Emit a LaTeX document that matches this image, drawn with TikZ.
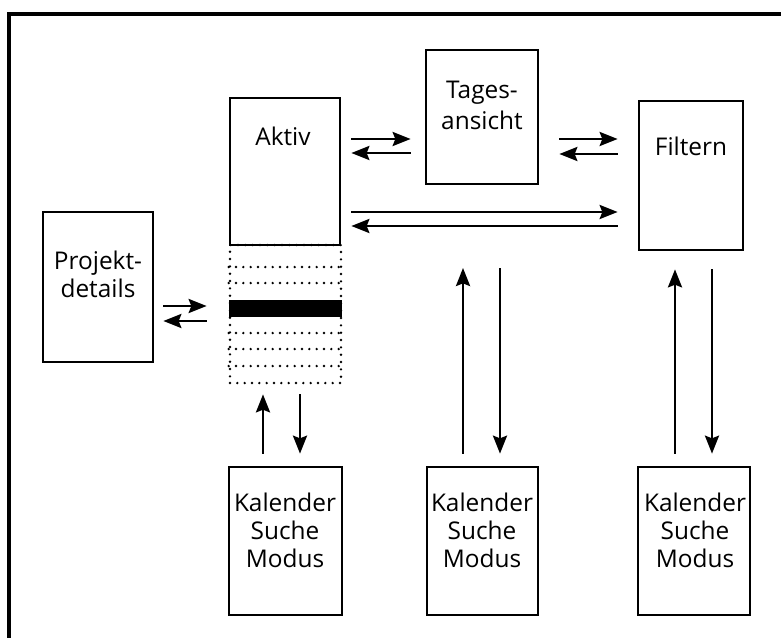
\documentclass[tikz,border=0pt]{standalone}
\usepackage{fontspec}
\setmainfont{Open Sans}
\usetikzlibrary{arrows.meta}

\begin{document}
\begin{tikzpicture}[x=0.75pt, y=-0.75pt,
	box/.style={draw, line width=2pt, inner sep=0pt},
	txt/.style={anchor=base, align=center, inner sep=0pt, font=\fontsize{18.3}{21}\selectfont},
	arr/.style={-{Stealth[length=13.5pt, width=10.5pt, inset=2pt]}, line width=2pt},
	dotline/.style={line width=2pt, line cap=round, dash pattern=on 0pt off 5.5pt}]

		\useasboundingbox (0,0) rectangle (781,637);
		\draw [line width=2.4pt] (9,660) |- (800,14);

		\node [box, minimum width=82.5pt, minimum height=110.25pt] (aktiv) at (285,171.5) {};
		\node [box, minimum width=84pt,   minimum height=100.5pt]  (tages) at (482,117) {};
		\node [box, minimum width=78pt,   minimum height=111.75pt] (filtern) at (691,175.5) {};
		\node [box, minimum width=82.5pt, minimum height=112.5pt]  (projekt) at (98,287) {};
		\node [box, minimum width=84.75pt, minimum height=111pt] (kal1) at (285.5,541) {};
		\node [box, minimum width=83.25pt, minimum height=111pt] (kal2) at (482.5,541) {};
		\node [box, minimum width=84pt,    minimum height=111pt] (kal3) at (694,541) {};
		\node [draw, dotline, inner sep=0pt, minimum width=83.25pt, minimum height=103.5pt] (stack) at (285.5,314) {};
		\coordinate (tagesfoot) at (482,268);

		\node [txt] (aktivtxt) at (283,145) {Aktiv};
		\node [txt] (tagestxt) at (482,129) {Tages-\\[2pt]ansicht};
		\node [txt] (filterntxt) at (691,155) {Filtern};
		\node [txt] (projekttxt) at (98,297) {Projekt-\\details};
		\node [txt] (kal1txt) at (285,567) {Kalender\\Suche\\Modus};
		\node [txt] (kal2txt) at (482,567) {Kalender\\Suche\\Modus};
		\node [txt] (kal3txt) at (695,567) {Kalender\\Suche\\Modus};

		% Stapel unter Aktiv
		\foreach \y in {267,283,333,349,366}
			\draw [dotline] (stack.west |- 0,\y) -- (stack.east |- 0,\y);
		\fill (stack.west |- 0,300) rectangle (stack.east |- 0,317);

		\draw [arr, shorten <=7.5pt, shorten >=10.5pt] (aktiv.east |- 0,139) -- (tages.west |- 0,139);
		\draw [arr, shorten <=10.5pt, shorten >=7.5pt] (tages.west |- 0,153) -- (aktiv.east |- 0,153);
		\draw [arr, shorten <=15pt, shorten >=15pt] (tages.east |- 0,139) -- (filtern.west |- 0,139);
		\draw [arr, shorten <=15pt, shorten >=15pt] (filtern.west |- 0,154) -- (tages.east |- 0,154);
		\draw [arr, shorten <=7.5pt, shorten >=15pt] (aktiv.east |- 0,212) -- (filtern.west |- 0,212);
		\draw [arr, shorten <=15pt, shorten >=7.5pt] (filtern.west |- 0,226) -- (aktiv.east |- 0,226);
		\draw [arr, shorten <=6.75pt, shorten >=16.5pt] (projekt.east |- 0,306) -- (stack.west |- 0,306);
		\draw [arr, shorten <=16.5pt, shorten >=6.75pt] (stack.west |- 0,321) -- (projekt.east |- 0,321);
		\draw [arr, shorten <=9pt, shorten >=7.5pt] (kal1.north -| 263,0) -- (stack.south -| 263,0);
		\draw [arr, shorten <=7.5pt, shorten >=9pt] (stack.south -| 300,0) -- (kal1.north -| 300,0);
		\draw [arr, shorten <=9pt] (kal2.north -| 463,0) -- (tagesfoot -| 463,0);
		\draw [arr, shorten >=9pt] (tagesfoot -| 500,0) -- (kal2.north -| 500,0);
		\draw [arr, shorten <=9pt, shorten >=13.5pt] (kal3.north -| 675,0) -- (filtern.south -| 675,0);
		\draw [arr, shorten <=13.5pt, shorten >=9pt] (filtern.south -| 712,0) -- (kal3.north -| 712,0);
	\end{tikzpicture}
\end{document}
